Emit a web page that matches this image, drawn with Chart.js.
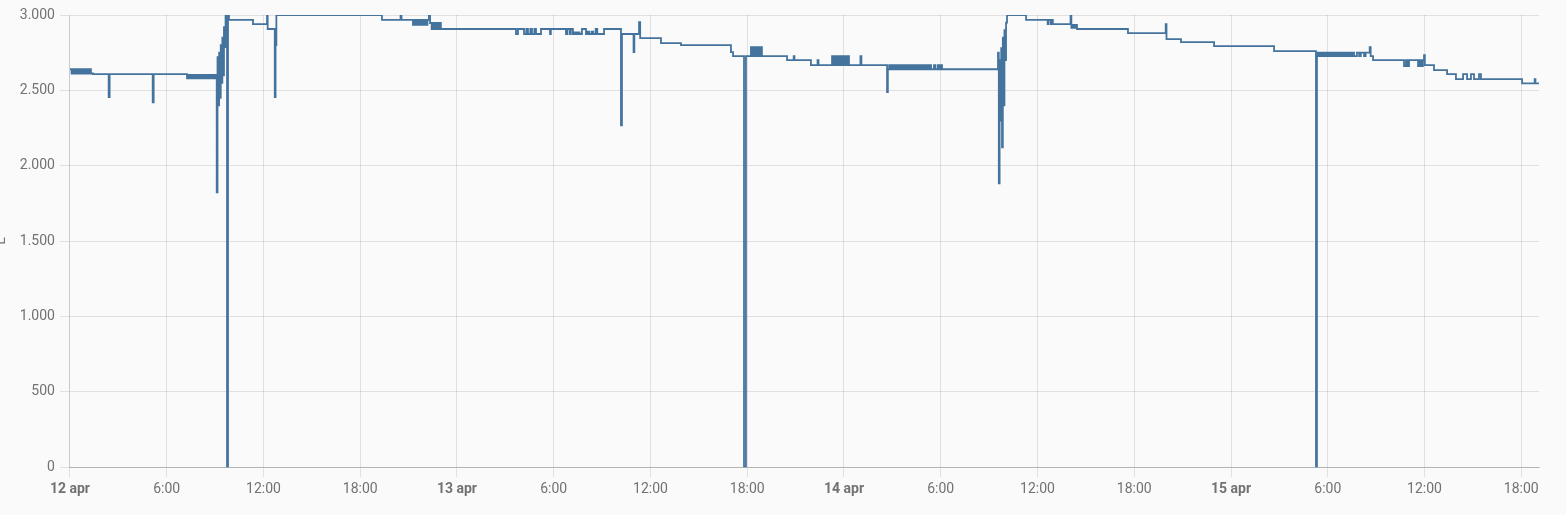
<!DOCTYPE html>
<html>
<head>
<meta charset="utf-8">
<script src="https://cdn.jsdelivr.net/npm/chart.js@4/dist/chart.umd.min.js"></script>
<style>
  html, body { margin: 0; padding: 0; background: #fafafa; overflow: hidden; }
  #wrap { position: relative; left: -7px; width: 1573px; height: 515px; }
</style>
</head>
<body>
<div id="wrap"><canvas id="history"></canvas></div>
<script>
// readings per day: [hour of day, litres], each value holds until the next one
const dayLabels = ['12 apr', '13 apr', '14 apr', '15 apr'];
const unit = 'L';

const day12 = [
  [0, 2640], [0.1, 2612], [0.2, 2640], [0.3, 2612], [0.4, 2640], [0.5, 2612], [0.6, 2640],
  [0.7, 2612], [0.8, 2640], [0.9, 2612], [1.0, 2640], [1.1, 2612], [1.2, 2640], [1.3, 2612],
  [1.43, 2608], [2.40, 2455], [2.46, 2608], [5.13, 2420], [5.19, 2608],
  [7.26, 2580], [7.36, 2603], [7.46, 2580], [7.56, 2603], [7.66, 2580], [7.76, 2603], [7.86, 2580],
  [7.96, 2603], [8.06, 2580], [8.16, 2603], [8.26, 2580], [8.36, 2603], [8.46, 2580], [8.56, 2603],
  [8.66, 2580], [8.76, 2603], [8.86, 2580], [8.96, 2603], [9.05, 2580],
  [9.10, 1823], [9.15, 2720], [9.20, 2400], [9.25, 2750], [9.30, 2450], [9.35, 2800], [9.40, 2550],
  [9.45, 2850], [9.50, 2600], [9.55, 2920], [9.60, 2787], [9.65, 3000], [9.74, 0], [9.80, 3000],
  [9.86, 2967], [11.35, 2940], [12.22, 3000], [12.26, 2907], [12.70, 2455], [12.75, 2800],
  [12.80, 3000], [19.35, 2967], [20.50, 3000], [20.56, 2967],
  [21.27, 2934], [21.37, 2967], [21.47, 2934], [21.57, 2967], [21.67, 2934], [21.77, 2967],
  [21.87, 2934], [21.97, 2967], [22.07, 2934], [22.17, 2967], [22.26, 3000], [22.33, 2947],
  [22.43, 2907], [22.53, 2947], [22.63, 2907], [22.73, 2947], [22.83, 2907], [22.93, 2947],
  [23.00, 2907]
];

const day13 = [
  [3.66, 2874], [3.78, 2907],
  [4.16, 2874], [4.30, 2907], [4.40, 2874], [4.55, 2907], [4.65, 2874], [4.80, 2907],
  [4.90, 2874], [5.21, 2907], [5.77, 2874], [5.82, 2907],
  [6.76, 2874], [6.85, 2907], [7.00, 2874], [7.06, 2907], [7.19, 2874], [7.30, 2885],
  [7.40, 2874], [7.50, 2885], [7.60, 2874], [7.75, 2907],
  [8.00, 2874], [8.10, 2890], [8.20, 2874], [8.35, 2890], [8.45, 2874], [8.60, 2907],
  [8.70, 2874], [9.12, 2907],
  [10.17, 2268], [10.23, 2874], [10.95, 2754], [11.00, 2874], [11.29, 2953], [11.36, 2847],
  [12.65, 2814], [13.89, 2800], [16.99, 2754], [17.12, 2727],
  [17.80, 0], [17.92, 2727],
  [18.23, 2787], [18.33, 2727], [18.43, 2787], [18.53, 2727], [18.63, 2787], [18.73, 2727],
  [18.83, 2787], [18.91, 2727], [20.47, 2700], [20.88, 2727], [20.93, 2700], [21.95, 2667],
  [22.36, 2700], [22.42, 2667],
  [23.26, 2727], [23.36, 2667], [23.46, 2727], [23.56, 2667], [23.66, 2727], [23.76, 2667],
  [23.86, 2727], [23.96, 2667]
];

const day14 = [
  [0.06, 2727], [0.16, 2667], [0.26, 2727], [0.31, 2667], [1.02, 2727], [1.08, 2667],
  [2.67, 2488], [2.72, 2640], [2.80, 2667], [2.88, 2640], [2.96, 2667], [3.04, 2640],
  [3.12, 2667], [3.20, 2640], [3.28, 2667], [3.36, 2640], [3.44, 2667], [3.52, 2640],
  [3.60, 2667], [3.68, 2640], [3.76, 2667], [3.84, 2640], [3.92, 2667], [4.00, 2640],
  [4.08, 2667], [4.16, 2640], [4.24, 2667], [4.32, 2640], [4.40, 2667], [4.48, 2640],
  [4.56, 2667], [4.64, 2640], [4.72, 2667], [4.80, 2640], [4.88, 2667], [4.96, 2640],
  [5.04, 2667], [5.12, 2640], [5.20, 2667], [5.28, 2640], [5.36, 2667], [5.40, 2640],
  [5.58, 2667], [5.65, 2640], [5.80, 2667], [5.90, 2640], [6.00, 2667], [6.08, 2640],
  [9.55, 2750], [9.60, 1883], [9.65, 2700], [9.70, 2300], [9.75, 2780], [9.80, 2122],
  [9.85, 2850], [9.90, 2400], [9.95, 2900], [10.00, 2700], [10.05, 2950], [10.11, 3000],
  [11.29, 2967], [12.63, 2940], [12.68, 2967], [12.82, 2940], [12.87, 2967], [12.95, 2940],
  [14.05, 3000], [14.10, 2914], [14.20, 2935], [14.30, 2914], [14.40, 2935], [14.45, 2907],
  [17.61, 2880], [19.95, 2940], [20.00, 2840], [20.90, 2820], [22.95, 2794]
];

const day15 = [
  [2.67, 2760], [5.27, 0], [5.33, 2750],
  [5.43, 2727], [5.53, 2750], [5.63, 2727], [5.73, 2750], [5.83, 2727], [5.93, 2750],
  [6.03, 2727], [6.13, 2750], [6.23, 2727], [6.33, 2750], [6.43, 2727], [6.53, 2750],
  [6.63, 2727], [6.73, 2750], [6.83, 2727], [6.93, 2750], [7.03, 2727], [7.13, 2750],
  [7.23, 2727], [7.33, 2750], [7.43, 2727], [7.53, 2750], [7.63, 2727], [7.81, 2750],
  [7.95, 2727], [8.05, 2750], [8.25, 2727], [8.35, 2750], [8.60, 2787], [8.66, 2727],
  [8.81, 2700], [10.73, 2661], [10.85, 2700], [10.95, 2661], [11.04, 2700],
  [11.60, 2661], [11.70, 2700], [11.80, 2661], [11.90, 2700], [11.97, 2734], [12.02, 2667],
  [12.59, 2634], [13.40, 2608], [13.95, 2574], [14.39, 2608], [14.64, 2574], [14.88, 2608],
  [15.07, 2574], [15.38, 2608], [15.50, 2574], [15.81, 2574], [18.05, 2546], [18.83, 2574],
  [18.88, 2546], [19.10, 2546]
];

const days = [day12, day13, day14, day15];
const points = [];
days.forEach((d, i) => d.forEach(r => points.push({ x: i * 24 + r[0], y: r[1] })));

const fmt = v => String(v).replace(/\B(?=(\d{3})+(?!\d))/g, '.');
const gridColor = 'rgba(0,0,0,0.1)';

new Chart(document.getElementById('history'), {
  type: 'line',
  data: {
    datasets: [{
      label: 'Water',
      data: points,
      borderColor: '#44739e',
      backgroundColor: '#44739e',
      borderWidth: 1.8,
      pointRadius: 0,
      stepped: true,
      fill: false
    }]
  },
  options: {
    responsive: true,
    maintainAspectRatio: false,
    animation: false,
    layout: { padding: { top: 15, right: 27, bottom: 13, left: 0 } },
    plugins: { legend: { display: false }, tooltip: { enabled: false } },
    scales: {
      x: {
        type: 'linear',
        min: 0,
        max: 91.1,
        grid: { color: gridColor, tickLength: 10 },
        border: { color: 'rgba(0,0,0,0.2)' },
        ticks: {
          stepSize: 6,
          includeBounds: false,
          autoSkip: false,
          maxRotation: 0,
          padding: 4,
          color: '#727272',
          font: ctx => ({
            family: 'Roboto',
            size: 14,
            weight: ctx.tick && ctx.tick.value % 24 === 0 ? 'bold' : 'normal'
          }),
          callback: v => v % 24 === 0 ? dayLabels[v / 24] : (v % 24) + ':00'
        }
      },
      y: {
        min: 0,
        max: 3000,
        grid: { color: gridColor, tickLength: 10 },
        border: { color: gridColor },
        title: {
          display: true, text: unit, color: '#727272',
          font: { family: 'Roboto', size: 14 }, padding: { top: 0, bottom: 5 }
        },
        ticks: {
          stepSize: 500,
          padding: 5,
          color: '#727272',
          font: { family: 'Roboto', size: 14 },
          callback: v => fmt(v)
        }
      }
    }
  }
});
</script>
</body>
</html>
